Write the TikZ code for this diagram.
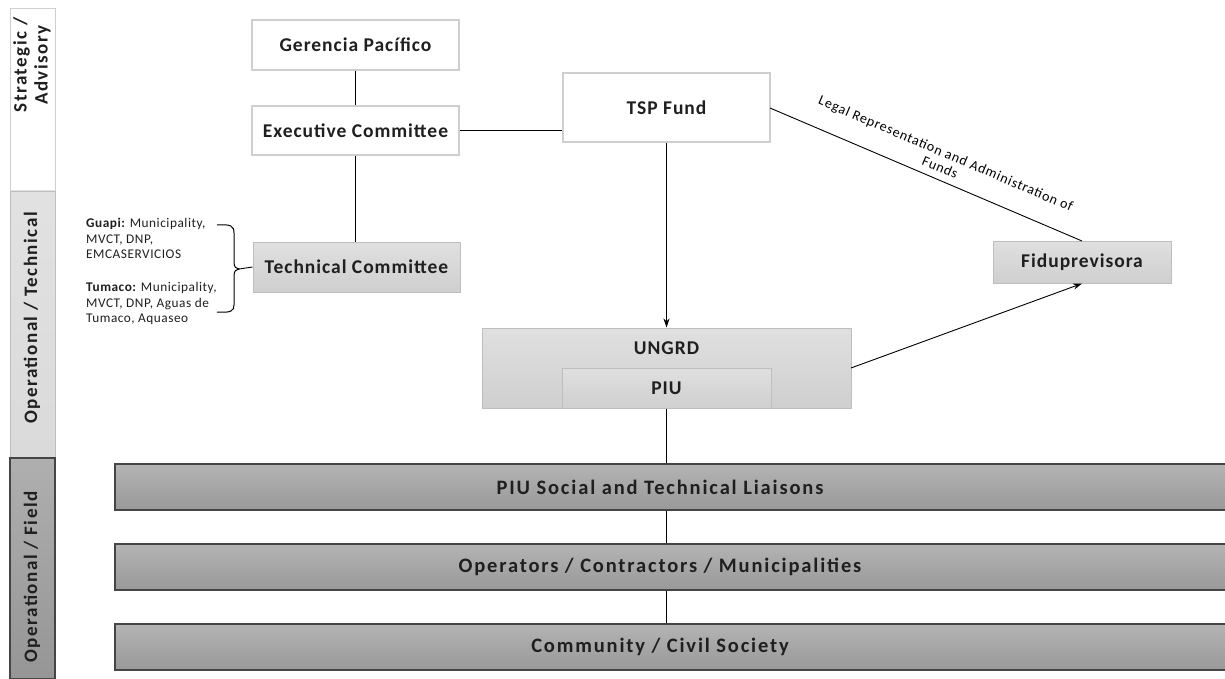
\documentclass[tikz,border=0pt]{standalone}
\usepackage{fontspec}
\setmainfont{Carlito}[LetterSpace=5]
\newfontfamily\barfont{Carlito}[LetterSpace=9]
\newfontfamily\sidefont{Carlito}[LetterSpace=8]
\newfontfamily\plainfont{Carlito}[LetterSpace=4]
\newfontfamily\lblfont{Carlito}[LetterSpace=6]
\usetikzlibrary{arrows.meta,positioning}
\definecolor{txt}{HTML}{1F1F1F}
\definecolor{wborder}{HTML}{CFCFCF}
\definecolor{lgray}{HTML}{DADADA}
\definecolor{lgrayb}{HTML}{BEBEBE}
\definecolor{dgray}{HTML}{A6A6A6}
\definecolor{dgrayb}{HTML}{454545}
\tikzset{
  x=1pt,y=-1pt,
  every node/.style={text=txt},
  boxfont/.style={font=\fontsize{19.5}{21}\selectfont\bfseries},
  whitebox/.style={draw=wborder,line width=1.2pt,fill=white,boxfont},
  graybox/.style={draw=lgrayb,line width=1pt,top color=lgray!85!white,bottom color=lgray!95!black,boxfont},
  barbox/.style={draw=dgrayb,line width=1.5pt,top color=dgray!85!white,bottom color=dgray!92!black},
  bartext/.style={font=\barfont\fontsize{20.5}{22}\selectfont\bfseries},
  conn/.style={draw=black,line width=0.9pt},
  arr/.style={conn,-{Stealth[length=9pt,width=6pt]}},
  sidelbl/.style={rotate=90,font=\sidefont\fontsize{19}{21}\selectfont\bfseries},
  smalltxt/.style={font=\plainfont\fontsize{13.3}{15.6}\selectfont,align=left,anchor=north west,inner sep=0pt}
}
\begin{document}
\begin{tikzpicture}
\useasboundingbox (0,0) rectangle (1225,679);
% sidebar
\fill[white,draw=wborder,line width=1pt] (10,9) rectangle (55,191);
\path[top color=lgray!80!white,bottom color=lgray,draw=lgrayb,line width=0.8pt] (10,191) rectangle (55,458);
\path[top color=dgray!90!white,bottom color=dgray!90!black,draw=dgrayb,line width=1.5pt] (10,458) rectangle (55,679);
\node[sidelbl,align=center] (sa) at (32,65) {Strategic /\\Advisory};
\node[sidelbl] (ot) at (32,318) {Operational / Technical};
\node[sidelbl] (of) at (32,577) {Operational / Field};

% boxes
\node[whitebox,minimum width=207pt,minimum height=50pt] (ger) at (355.5,45) {Gerencia Pacífico};
\node[whitebox,minimum width=207pt,minimum height=49pt] (exe) at (355.5,130.5) {Executive Committee};
\node[whitebox,minimum width=207pt,minimum height=69pt] (tsp) at (666.5,107.5) {TSP Fund};
\node[graybox,minimum width=207pt,minimum height=50pt] (tec) at (356.5,267) {Technical Committee};
\node[graybox,minimum width=178pt,minimum height=42pt] (fid) at (1082,262) {Fiduprevisora};
\node[graybox,minimum width=369pt,minimum height=80pt] (ung) at (666.5,368) {};
\node[boxfont] (ungl) at (666.5,348) {UNGRD};
\node[graybox,minimum width=209pt,minimum height=40pt] (piu) at (666.5,388) {PIU};
\node[barbox,minimum width=1112pt,minimum height=46pt] (liai) at (671,487) {};
\node[bartext] (liail) at (660,487) {PIU Social and Technical Liaisons};
\node[barbox,minimum width=1112pt,minimum height=46pt] (oper) at (671,567) {};
\node[bartext] (operl) at (660,567) {Operators / Contractors / Municipalities};
\node[barbox,minimum width=1112pt,minimum height=46pt] (comm) at (671,647) {};
\node[bartext] (comml) at (660,647) {Community / Civil Society};

% connectors
\draw[conn] (ger.south) -- (exe.north);
\draw[conn] (exe.south) -- (tec.north -| exe.south);
\draw[conn] (exe.east) -- (tsp.west |- exe.east);
\draw[arr] (tsp.south) -- (ung.north);
\coordinate (tspr) at (770,108);
\coordinate (fidtop) at (1082,241);
\draw[conn] (tspr) -- node[sloped,above=7pt,inner sep=0pt,pos=0.53,font=\lblfont\fontsize{14}{15}\selectfont,align=center,text=black] (lbl) {Legal Representation and Administration of\\Funds} (fidtop);
\coordinate (ungr) at (851,368);
\draw[arr] (ungr) -- (fid.south);
\draw[conn] (piu.south) -- (liai.north -| piu.south);
\draw[conn] (liai.south -| piu.south) -- (oper.north -| piu.south);
\draw[conn] (oper.south -| piu.south) -- (comm.north -| piu.south);

% brace
\coordinate (btip) at (239,269);
\draw[conn,line width=1pt] (217,225) .. controls (231,224) and (234,226) .. (234,233) -- (234,262) .. controls (234,267) and (236,269) .. (btip) .. controls (236,269) and (234,271) .. (234,276) -- (234,305) .. controls (234,311) and (231,313) .. (217,312);
\draw[conn] (btip) -- (tec.west);

% left text
\node[smalltxt] (guapi) at (86,218) {{\bfseries Guapi:} Municipality,\\MVCT, DNP,\\EMCASERVICIOS};
\node[smalltxt] (tumaco) at (86,282) {{\bfseries Tumaco:} Municipality,\\MVCT, DNP, Aguas de\\Tumaco, Aquaseo};
\end{tikzpicture}
\end{document}
